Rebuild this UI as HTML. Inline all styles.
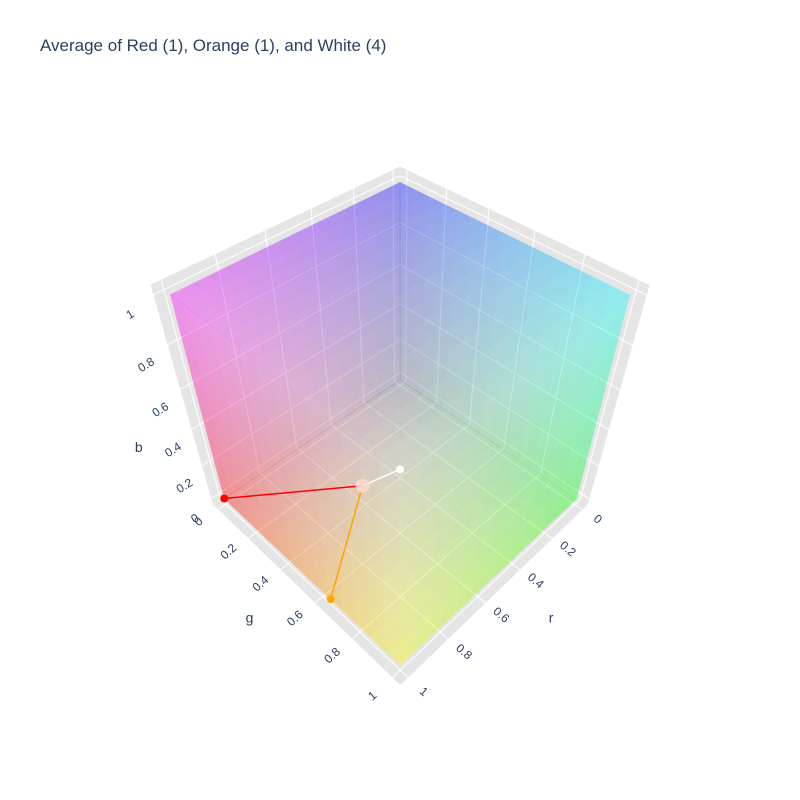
<!DOCTYPE html>
<html><head><meta charset="utf-8"><style>
html,body{margin:0;padding:0;background:#fff;}
svg{display:block;font-family:"Liberation Sans",Arial,sans-serif;}
</style></head><body>
<svg id="chart" width="800" height="800" viewBox="0 0 800 800">
<text x="40" y="51" font-size="17" fill="#2a3f5f">Average of Red (1), Orange (1), and White (4)</text>
<g id="scene"></g>
</svg>
<script>
// ---- data ----
const pointNames = ['Red', 'Orange', 'White'];
const pointR = [1, 1, 1];
const pointG = [0, 0.647, 1];
const pointB = [0, 0, 1];
const pointWeights = [1, 1, 4];
const pointColors = ['#ff0000', '#ffa500', '#ffffff'];
const tickValues = [0, 0.2, 0.4, 0.6, 0.8, 1];
const tickLabels = ['0', '0.2', '0.4', '0.6', '0.8', '1'];

// ---- camera fit (cube vertices -> screen) ----
const cubeVerts = [[0,0,0],[1,0,0],[0,1,0],[0,0,1],[1,1,0],[1,0,1],[0,1,1],[1,1,1]];
const cubeScreen = [[400,381],[224,498],[577,498],[400,182],[400,665],[171,294],[629,295],[400,471]];
function solveCam(){
  const A=[],b=[];
  for(let i=0;i<8;i++){
    const [X,Y,Z]=cubeVerts[i],[u,v]=cubeScreen[i];
    A.push([X,Y,Z,1,0,0,0,0,-u*X,-u*Y,-u*Z]);b.push(u);
    A.push([0,0,0,0,X,Y,Z,1,-v*X,-v*Y,-v*Z]);b.push(v);
  }
  const n=11,M=[];
  for(let i=0;i<n;i++){M.push([]);for(let j=0;j<=n;j++){let s=0;for(let k=0;k<A.length;k++)s+=A[k][i]*(j<n?A[k][j]:b[k]);M[i].push(s);}}
  for(let c=0;c<n;c++){
    let p=c;for(let r=c+1;r<n;r++)if(Math.abs(M[r][c])>Math.abs(M[p][c]))p=r;
    [M[c],M[p]]=[M[p],M[c]];
    for(let r=0;r<n;r++){if(r===c)continue;const f=M[r][c]/M[c][c];for(let j=c;j<=n;j++)M[r][j]-=f*M[c][j];}
  }
  return M.map((row,i)=>row[n]/row[i]);
}
const m=solveCam();
function P(x,y,z){const w=m[8]*x+m[9]*y+m[10]*z+1;return[(m[0]*x+m[1]*y+m[2]*z+m[3])/w,(m[4]*x+m[5]*y+m[6]*z+m[7])/w];}
function pt(axis,c,s,t){const a=[0,0,0];const o=[0,1,2].filter(k=>k!==axis);a[axis]=c;a[o[0]]=s;a[o[1]]=t;return a;}

const NS='http://www.w3.org/2000/svg';
const scene=document.getElementById('scene');
function el(tag,attrs,parent){const e=document.createElementNS(NS,tag);for(const k in attrs)e.setAttribute(k,attrs[k]);(parent||scene).appendChild(e);return e;}
function poly(pts){return pts.map(p=>p[0].toFixed(2)+','+p[1].toFixed(2)).join(' ');}

const lo=-0.037,hi=1.037;
// walls
const wallNames=['r-wall','g-wall','b-wall'];
for(let ax=0;ax<3;ax++){
  const g=el('g',{});
  
  
  const w=el('polygon',{points:poly([pt(ax,lo,lo,lo),pt(ax,lo,hi,lo),pt(ax,lo,hi,hi),pt(ax,lo,lo,hi)].map(q=>P(...q))),fill:'#e5e5e5'},g);
  
  
  tickValues.forEach(v=>{
    let a=P(...pt(ax,lo,v,lo)),b=P(...pt(ax,lo,v,hi));
    let l=el('line',{x1:a[0],y1:a[1],x2:b[0],y2:b[1],stroke:'#fff','stroke-width':1},g);
    
    
    a=P(...pt(ax,lo,lo,v));b=P(...pt(ax,lo,hi,v));
    l=el('line',{x1:a[0],y1:a[1],x2:b[0],y2:b[1],stroke:'#fff','stroke-width':1},g);
    
    
  });
}
// cube faces
const N=14;
function face(ax,c,name){
  const g=el('g',{opacity:0.2});
  
  
  for(let i=0;i<N;i++)for(let j=0;j<N;j++){
    const s0=i/N,s1=(i+1)/N,t0=j/N,t1=(j+1)/N;
    const cc=pt(ax,c,(s0+s1)/2,(t0+t1)/2);
    const col='rgb('+cc.map(v=>Math.round(v*255)).join(',')+')';
    el('polygon',{points:poly([pt(ax,c,s0,t0),pt(ax,c,s1,t0),pt(ax,c,s1,t1),pt(ax,c,s0,t1)].map(q=>P(...q))),fill:col,stroke:col,'stroke-width':0.6},g);
  }
}
face(0,0,'cube-face-r0');face(1,0,'cube-face-g0');face(2,0,'cube-face-b0');
face(0,1,'cube-face-r1');face(1,1,'cube-face-g1');face(2,1,'cube-face-b1');

// weighted RMS average
let sw=0,ar=0,ag=0,ab=0;
pointWeights.forEach((w,i)=>{sw+=w;ar+=w*pointR[i]*pointR[i];ag+=w*pointG[i]*pointG[i];ab+=w*pointB[i]*pointB[i];});
ar=Math.sqrt(ar/sw);ag=Math.sqrt(ag/sw);ab=Math.sqrt(ab/sw);
const avg=P(ar,ag,ab);
pointNames.forEach((n,i)=>{
  const p=P(pointR[i],pointG[i],pointB[i]);
  const l=el('line',{x1:p[0],y1:p[1],x2:avg[0],y2:avg[1],stroke:pointColors[i],'stroke-width':1.5});
  
  
});
pointNames.forEach((n,i)=>{
  const p=P(pointR[i],pointG[i],pointB[i]);
  const c=el('circle',{cx:p[0],cy:p[1],r:4,fill:pointColors[i]});
  
  
});
const ac=el('circle',{cx:avg[0],cy:avg[1],r:7,fill:'rgb('+[ar,ag,ab].map(v=>Math.round(255*v)).join(',')+')',opacity:0.85});



// tick labels
function label(x,y,txt,rot,size,name){
  const t=el('text',{x:x,y:y,'font-size':size,fill:'#2a3f5f','text-anchor':'middle','dominant-baseline':'central',transform:'rotate('+rot+' '+x+' '+y+')'});
  t.textContent=txt;
  
  
}
tickValues.forEach((v,i)=>{
  let p=P(1.14,0,v);label(p[0],p[1],tickLabels[i],-32,12,'b-tick-label');
  p=P(1.13,v,-0.03);label(p[0],p[1],tickLabels[i],-42,12,'g-tick-label');
  p=P(v,1.11,-0.03);label(p[0],p[1],tickLabels[i],40,12,'r-tick-label');
});
let p=P(1.25,0,0.5);label(p[0],p[1],'b',0,14,'b-axis-title');
p=P(1.25,0.5,0);label(p[0],p[1],'g',0,14,'g-axis-title');
p=P(0.5,1.25,0);label(p[0],p[1],'r',0,14,'r-axis-title');
</script>
</body></html>
